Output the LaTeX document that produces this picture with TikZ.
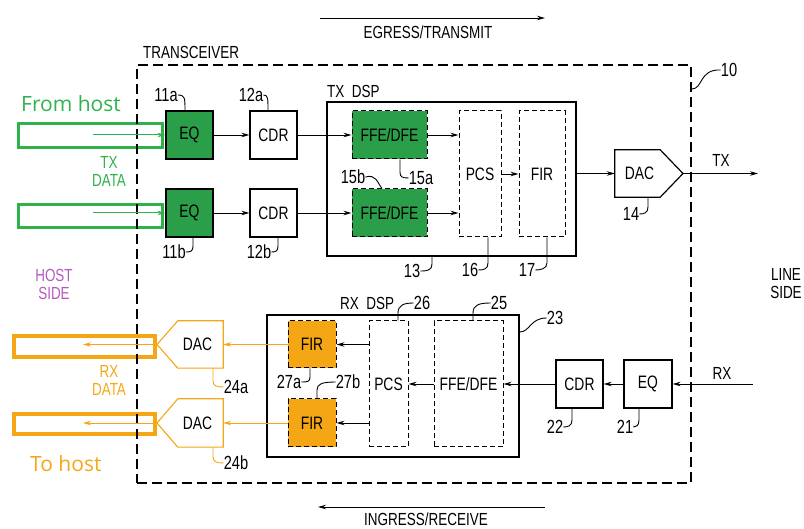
\documentclass[tikz,border=0pt]{standalone}
\usepackage{fontspec}
\setmainfont{Liberation Sans}[FakeStretch=0.77]
\newfontfamily\hostfont{Open Sans}
\usetikzlibrary{arrows.meta}
\definecolor{gfill}{RGB}{42,158,72}
\definecolor{gline}{RGB}{46,178,76}
\definecolor{orng}{RGB}{245,166,20}
\definecolor{purp}{RGB}{180,90,190}
\begin{document}
\begin{tikzpicture}[x=1pt,y=-1pt,
  lbl/.style={font=\fontsize{17.5}{18}\selectfont, inner sep=0pt},
  num/.style={font=\fontsize{19}{20}\selectfont, inner sep=0pt},
  btxt/.style={font=\fontsize{18}{20}\selectfont},
  blk/.style={draw, line width=1.2pt, inner sep=0pt, btxt},
  dblk/.style={draw, line width=1pt, dash pattern=on 5pt off 3pt, inner sep=0pt, btxt},
  dsp/.style={draw, line width=1.4pt, inner sep=0pt},
  con/.style={line width=0.9pt, -{Stealth[length=8pt,width=4.5pt]}},
  lead/.style={line width=0.9pt},
  hostg/.style={draw=gline, line width=3.2pt, inner sep=0pt},
  hosto/.style={draw=orng, line width=3.6pt, inner sep=0pt},
  hostlbl/.style={font=\hostfont\fontsize{21}{24}\selectfont, inner sep=0pt, anchor=west},
]
\useasboundingbox (0,0) rectangle (804,529);

% direction arrows
\coordinate (egA) at (320,18);
\coordinate (egB) at (545,18);
\draw[con] (egA) -- (egB);
\node[lbl] (egl) at (428,32) {EGRESS/TRANSMIT};
\coordinate (inA) at (545,507);
\coordinate (inB) at (318,507);
\draw[con] (inA) -- (inB);
\node[lbl] (inl) at (426,519.5) {INGRESS/RECEIVE};

% host side rectangles (drawn under the transceiver border)
\node[hostg, minimum width=144pt, minimum height=24pt] (hga) at (90.5,135.5) {};
\node[hostg, minimum width=144pt, minimum height=23pt] (hgb) at (90.5,216) {};
\node[hosto, minimum width=141pt, minimum height=21pt] (hoa) at (84.5,346.5) {};
\node[hosto, minimum width=141pt, minimum height=20pt] (hob) at (84.5,424) {};

% transceiver
\node[draw, line width=1.8pt, dash pattern=on 10pt off 5pt, minimum width=554pt, minimum height=418pt, inner sep=0pt] (trx) at (414,274) {};
\node[lbl, anchor=west] (trxl) at (143,52) {TRANSCEIVER};
\node[num] (l10) at (729,70) {10};
\draw[lead] (trx.east |- 0,89) .. controls (703,89) and (699,69) .. (l10.west);

% side labels
\node[hostlbl, text=gline] (fromh) at (21,104) {From host};
\node[lbl, text=gline, align=center] (txdata) at (109,171) {TX\\DATA};
\node[lbl, text=purp, align=center] (hside) at (54,284) {HOST\\SIDE};
\node[lbl, align=center] (lside) at (786,284) {LINE\\SIDE};
\node[lbl, text=orng, align=center] (rxdata) at (109,380) {RX\\DATA};
\node[hostlbl, text=orng] (toh) at (30,464) {To host};

% ---------- TX path ----------
\node[blk, fill=gfill, minimum width=47pt, minimum height=48pt] (eqa) at (189.5,135) {EQ};
\node[blk, fill=gfill, minimum width=47pt, minimum height=48pt] (eqb) at (189.5,213) {EQ};
\node[blk, minimum width=47pt, minimum height=48pt] (cdra) at (273.5,135) {CDR};
\node[blk, minimum width=47pt, minimum height=48pt] (cdrb) at (273.5,213) {CDR};
\node[dsp, minimum width=249pt, minimum height=154pt] (txdsp) at (451.5,179) {};
\node[lbl, anchor=west] (txdspl) at (327,91) {TX\ \ DSP};
\node[dblk, fill=gfill, minimum width=75pt, minimum height=48pt] (ffea) at (389.5,135) {FFE/DFE};
\node[dblk, fill=gfill, minimum width=75pt, minimum height=48pt] (ffeb) at (389.5,213) {FFE/DFE};
\node[dblk, minimum width=42pt, minimum height=126pt] (pcs16) at (480,174) {PCS};
\node[dblk, minimum width=46pt, minimum height=126pt] (fir17) at (542,174) {FIR};
\node[btxt, inner sep=0pt, minimum width=45pt, minimum height=47pt] (dac14) at (637.5,173.5) {\hspace*{4pt}DAC};
\coordinate (dac14tip) at (683,173.5);
\draw[line width=1.2pt] (dac14.north west) -- (dac14.north east) -- (dac14tip) -- (dac14.south east) -- (dac14.south west) -- cycle;
\coordinate (txend) at (758,173.5);

\coordinate (gaa) at (93,135);
\coordinate (gab) at (93,213);
\draw[con, draw=gline, line width=1pt] (gaa) -- (eqa.west);
\draw[con, draw=gline, line width=1pt] (gab) -- (eqb.west);
\draw[con] (eqa) -- (cdra);
\draw[con] (eqb) -- (cdrb);
\draw[con] (cdra) -- (ffea);
\draw[con] (cdrb) -- (ffeb);
\draw[con] (ffea) -- (pcs16.west |- ffea);
\draw[con] (ffeb) -- (pcs16.west |- ffeb);
\draw[con] (pcs16) -- (fir17);
\draw[con] (txdsp.east |- dac14) -- (dac14.west);
\draw[con] (dac14tip) -- (txend);
\node[lbl] (txl) at (721,160) {TX};

% TX reference numerals
\node[num] (l11a) at (166,95) {11a};
\draw[lead] (l11a.east) .. controls (185,95) and (185,98) .. (eqa.north -| 185,0);
\node[num] (l12a) at (251,95) {12a};
\draw[lead] (l12a.east) .. controls (268,95) and (268,98) .. (cdra.north -| 268,0);
\node[num] (l11b) at (174,252) {11b};
\draw[lead] (eqb.south -| 193,0) -- (193,246) .. controls (193,251) and (191,252) .. (l11b.east);
\node[num] (l12b) at (259,252) {12b};
\draw[lead] (cdrb.south -| 278,0) -- (278,246) .. controls (278,251) and (276,252) .. (l12b.east);
\node[num] (l15a) at (421,178) {15a};
\draw[lead] (ffea.south -| 400,0) -- (400,172) .. controls (400,177) and (402,178) .. (l15a.west);
\node[num] (l15b) at (353,177) {15b};
\draw[lead] (l15b.east) .. controls (376,174) and (377,182) .. (ffeb.north -| 382,0);
\node[num] (l13) at (412,271) {13};
\draw[lead] (txdsp.south -| 432,0) -- (432,264) .. controls (432,270) and (428,271) .. (l13.east);
\node[num] (l16) at (470,270) {16};
\draw[lead] (pcs16.south -| 488,0) -- (488,263) .. controls (488,269) and (484,270) .. (l16.east);
\node[num] (l17) at (527,270) {17};
\draw[lead] (fir17.south -| 547,0) -- (547,263) .. controls (547,269) and (540,270) .. (l17.east);
\node[num] (l14) at (631,214) {14};
\draw[lead] (dac14.south -| 648,0) -- (648,207) .. controls (648,213) and (644,214) .. (l14.east);

% ---------- RX path ----------
\node[dsp, minimum width=252pt, minimum height=142pt] (rxdsp) at (393,386) {};
\node[lbl, anchor=west] (rxdspl) at (340,303) {RX\ \ DSP};
\node[dblk, fill=orng, minimum width=48pt, minimum height=47pt] (fir27a) at (312,344.5) {FIR};
\node[dblk, fill=orng, minimum width=48pt, minimum height=48pt] (fir27b) at (312,423) {FIR};
\node[dblk, minimum width=39pt, minimum height=126pt] (pcs26) at (388.5,384) {PCS};
\node[dblk, minimum width=69pt, minimum height=126pt] (ffe25) at (468.5,384) {FFE/DFE};
\node[blk, minimum width=47pt, minimum height=48pt] (cdr22) at (579.5,384) {CDR};
\node[blk, minimum width=48pt, minimum height=48pt] (eq21) at (648,384) {EQ};
\coordinate (rxstart) at (753,384);
\node[lbl] (rxl) at (722,373) {RX};

\node[btxt, inner sep=0pt, minimum width=45pt, minimum height=47pt] (dac24a) at (200.5,344.5) {\hspace*{-6pt}DAC};
\node[btxt, inner sep=0pt, minimum width=45pt, minimum height=48pt] (dac24b) at (200.5,423) {\hspace*{-6pt}DAC};
\coordinate (dac24atip) at (157,344.5);
\coordinate (dac24btip) at (157,423);
\draw[orng, line width=1.1pt] (dac24a.north east) -- (dac24a.north west) -- (dac24atip) -- (dac24a.south west) -- (dac24a.south east) -- cycle;
\draw[orng, line width=1.1pt] (dac24b.north east) -- (dac24b.north west) -- (dac24btip) -- (dac24b.south west) -- (dac24b.south east) -- cycle;
\coordinate (oea) at (83,344.5);
\coordinate (oeb) at (83,423);

\draw[con] (rxstart) -- (eq21);
\draw[con] (eq21) -- (cdr22);
\draw[con] (cdr22) -- (ffe25);
\draw[con] (ffe25) -- (pcs26);
\draw[con] (pcs26.west |- fir27a) -- (fir27a.east);
\draw[con] (pcs26.west |- fir27b) -- (fir27b.east);
\draw[con, draw=orng, line width=0.9pt] (fir27a.west) -- (dac24a.east);
\draw[con, draw=orng, line width=0.9pt] (fir27b.west) -- (dac24b.east);
\draw[con, draw=orng, line width=0.9pt] (dac24atip) -- (oea);
\draw[con, draw=orng, line width=0.9pt] (dac24btip) -- (oeb);

% RX reference numerals
\node[num] (l23) at (555,318) {23};
\draw[lead] (rxdsp.east |- 0,332) .. controls (530,332) and (530,318) .. (l23.west);
\node[num] (l26) at (422,303) {26};
\draw[lead] (pcs26.north -| 398,0) -- (398,313) .. controls (398,305) and (404,303) .. (l26.west);
\node[num] (l25) at (499,303) {25};
\draw[lead] (ffe25.north -| 473,0) -- (473,313) .. controls (473,305) and (479,303) .. (l25.west);
\node[num] (l27a) at (289,382) {27a};
\draw[lead] (fir27a.south -| 310,0) -- (310,377) .. controls (310,382) and (307,382) .. (l27a.east);
\node[num] (l27b) at (348,382) {27b};
\draw[lead] (fir27b.north -| 317,0) -- (317,390) .. controls (317,384) and (322,382) .. (l27b.west);
\node[num] (l22) at (555,427) {22};
\draw[lead] (cdr22.south -| 572,0) -- (572,420) .. controls (572,426) and (568,427) .. (l22.east);
\node[num] (l21) at (625,427) {21};
\draw[lead] (eq21.south -| 639,0) -- (639,420) .. controls (639,426) and (636,427) .. (l21.east);
\node[num] (l24a) at (236,387) {24a};
\draw[lead, orng] (dac24a.south -| 213,0) -- (213,381) .. controls (213,386) and (217,387) .. (l24a.west);
\node[num] (l24b) at (236,463) {24b};
\draw[lead, orng] (dac24b.south -| 213,0) -- (213,457) .. controls (213,462) and (217,463) .. (l24b.west);
\end{tikzpicture}
\end{document}
